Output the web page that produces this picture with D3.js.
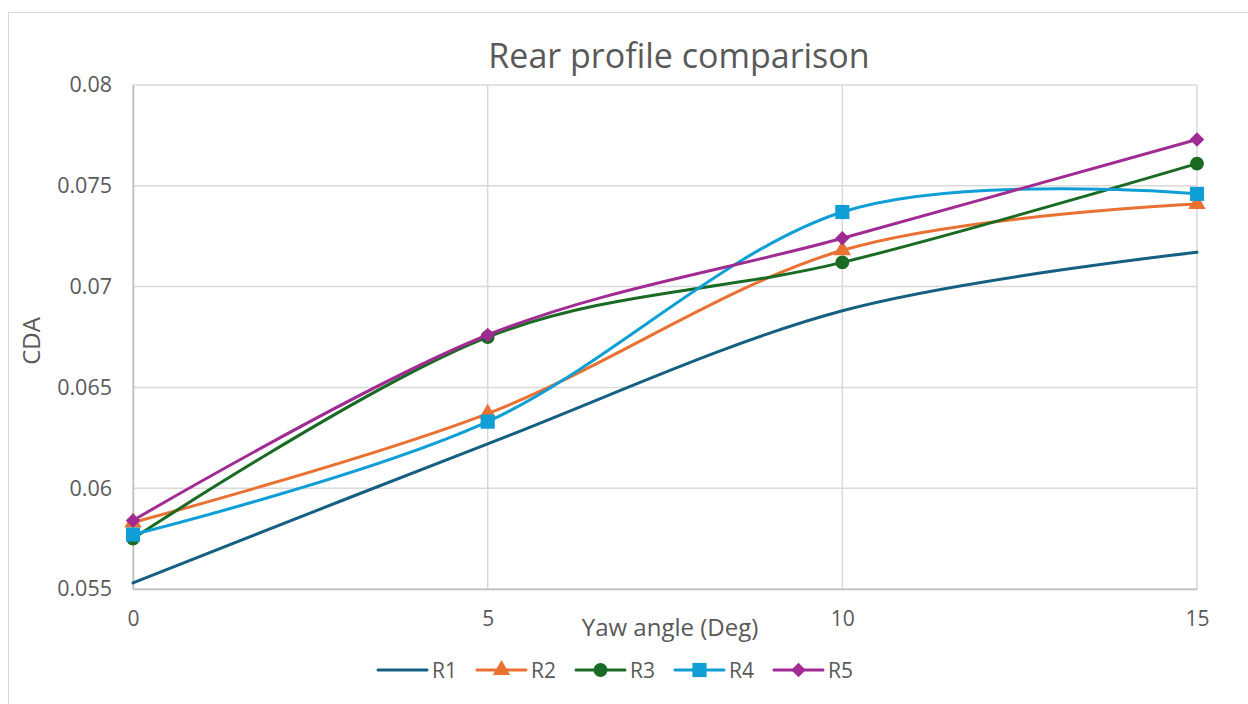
<!DOCTYPE html>
<html>
<head>
<meta charset="utf-8">
<script src="https://cdn.jsdelivr.net/npm/d3@7"></script>
<style>
  body { margin: 0; background: #fff; }
  text { font-family: "Open Sans", "Noto Sans", sans-serif; fill: #595959; }
</style>
</head>
<body>
<script>
// chart data
const yawAngles = [0, 5, 10, 15]
const seriesNames = ["R1", "R2", "R3", "R4", "R5"]
const r1 = [0.0553, 0.0622, 0.0688, 0.0717]
const r2 = [0.0583, 0.0637, 0.0718, 0.0741]
const r3 = [0.0575, 0.0675, 0.0712, 0.0761]
const r4 = [0.0577, 0.0633, 0.0737, 0.0746]
const r5 = [0.0584, 0.0676, 0.0724, 0.0773]
const yTicks = [0.055, 0.06, 0.065, 0.07, 0.075, 0.08]
const xTicks = [0, 5, 10, 15]

const colors = ["#156082", "#E97132", "#196B24", "#0F9ED5", "#A02B93"]
const markers = [null, "triangle", "circle", "square", "diamond"]
const seriesValues = [r1, r2, r3, r4, r5]

const width = 1248, height = 704
const plotLeft = 133, plotRight = 1197, plotTop = 85, plotBottom = 589

const svg = d3.select("body").append("svg")
    .attr("width", width)
    .attr("height", height)

// chart frame
svg.append("rect")
    .attr("x", 8.5).attr("y", 12.5)
    .attr("width", 1250).attr("height", 720)
    .attr("fill", "none")
    .attr("stroke", "#d9d9d9")

const x = d3.scaleLinear().domain([0, 15]).range([plotLeft, plotRight])
const y = d3.scaleLinear().domain([0.055, 0.08]).range([plotBottom, plotTop])

// gridlines
svg.append("g")
    .selectAll("line")
    .data(yTicks)
    .enter().append("line")
    .attr("x1", plotLeft).attr("x2", plotRight)
    .attr("y1", d => y(d)).attr("y2", d => y(d))
    .attr("stroke", "#d9d9d9")
    .attr("stroke-width", 1.5)

svg.append("g")
    .selectAll("line")
    .data(xTicks)
    .enter().append("line")
    .attr("x1", d => x(d)).attr("x2", d => x(d))
    .attr("y1", plotTop).attr("y2", plotBottom)
    .attr("stroke", "#d9d9d9")
    .attr("stroke-width", 1.5)

// axes
const yAxis = svg.append("g")
    .attr("transform", `translate(${plotLeft},0)`)
    .call(d3.axisLeft(y).tickValues(yTicks).tickSize(0).tickPadding(21).tickFormat(d3.format("")))
yAxis.select(".domain").attr("stroke", "#bfbfbf").attr("stroke-width", 1.5)
yAxis.selectAll("text").attr("font-size", 21.5).style("fill", "#595959")

const xAxis = svg.append("g")
    .attr("transform", `translate(0,${plotBottom})`)
    .call(d3.axisBottom(x).tickValues(xTicks).tickSize(0).tickPadding(22))
xAxis.select(".domain").attr("stroke", "#bfbfbf").attr("stroke-width", 1.5)
xAxis.selectAll("text").attr("font-size", 21).style("fill", "#595959")

// titles
svg.append("text")
    .attr("x", 679).attr("y", 68)
    .attr("text-anchor", "middle")
    .attr("font-size", 34)
    .text("Rear profile comparison")

svg.append("text")
    .attr("x", 670).attr("y", 636)
    .attr("text-anchor", "middle")
    .attr("font-size", 24)
    .text("Yaw angle (Deg)")

svg.append("text")
    .attr("transform", "translate(40,341) rotate(-90)")
    .attr("text-anchor", "middle")
    .attr("font-size", 24)
    .text("CDA")

// lines
const line = d3.line()
    .x((d, i) => x(yawAngles[i]))
    .y(d => y(d))
    .curve(d3.curveCardinal.tension(0))

const symbolType = {
    triangle: d3.symbolTriangle,
    circle: d3.symbolCircle,
    square: d3.symbolSquare,
    diamond: d3.symbolSquare
}
const symbolSize = { triangle: 130, circle: 150, square: 200, diamond: 105 }

function drawMarker(g, kind, cx, cy, color) {
    if (!kind) return
    let s = g.append("path")
        .attr("d", d3.symbol().type(symbolType[kind]).size(symbolSize[kind])())
        .attr("fill", color)
    if (kind === "diamond") s.attr("transform", `translate(${cx},${cy}) rotate(45)`)
    else s.attr("transform", `translate(${cx},${cy})`)
}

seriesValues.forEach(function (vals, k) {
    const g = svg.append("g")
    g.append("path")
        .attr("d", line(vals))
        .attr("fill", "none")
        .attr("stroke", colors[k])
        .attr("stroke-width", 3)
        .attr("stroke-linecap", "round")
    vals.forEach(function (v, i) {
        drawMarker(g, markers[k], x(yawAngles[i]), y(v), colors[k])
    })
})

// legend
const legend = svg.append("g")
seriesNames.forEach(function (name, k) {
    const lx = 378 + k * 99
    const ly = 670
    legend.append("line")
        .attr("x1", lx).attr("x2", lx + 49)
        .attr("y1", ly).attr("y2", ly)
        .attr("stroke", colors[k])
        .attr("stroke-width", 3)
        .attr("stroke-linecap", "round")
    drawMarker(legend, markers[k], lx + 24.5, ly, colors[k])
    legend.append("text")
        .attr("x", lx + 54).attr("y", ly + 7.5)
        .attr("font-size", 21)
        .text(name)
})
</script>
</body>
</html>
